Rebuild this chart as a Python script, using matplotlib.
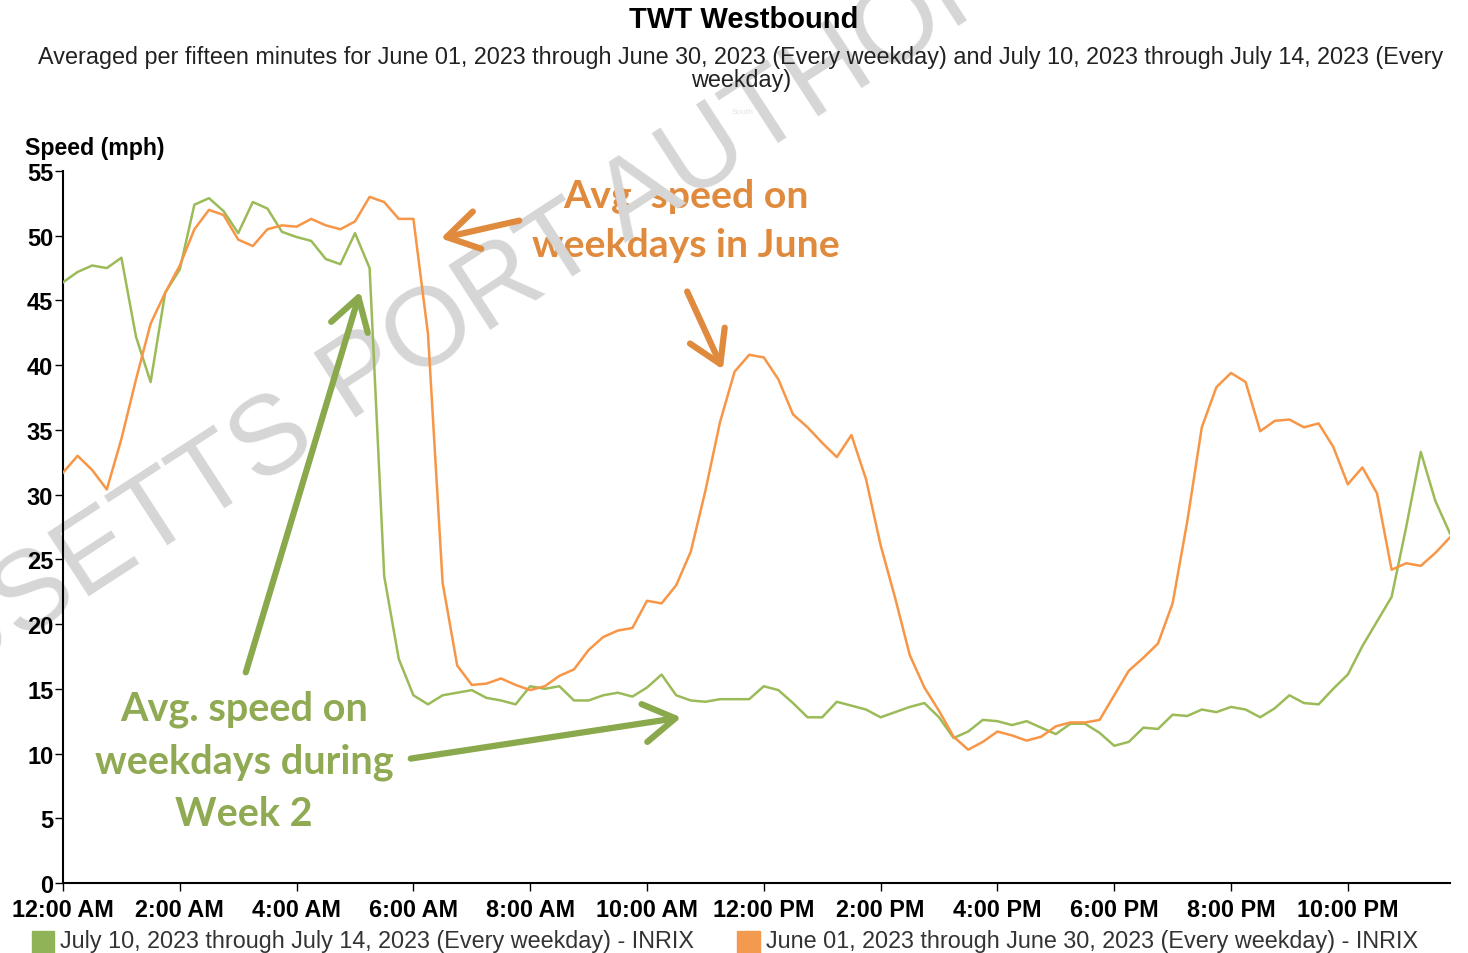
import numpy as np
import matplotlib; matplotlib.use('Agg')
import matplotlib.pyplot as plt

# 15-minute bins over the day (0 .. 95)
slots = np.arange(96) / 4.0   # hours

july_week2 = [46.4, 47.2, 47.7, 47.5, 48.3, 42.2, 38.7, 45.6, 47.4, 52.4, 52.9, 51.9,
              50.2, 52.6, 52.1, 50.3, 49.9, 49.6, 48.2, 47.8, 50.2, 47.5, 23.7, 17.3,
              14.5, 13.8, 14.5, 14.7, 14.9, 14.3, 14.1, 13.8, 15.2, 15.0, 15.2, 14.1,
              14.1, 14.5, 14.7, 14.4, 15.1, 16.1, 14.5, 14.1, 14.0, 14.2, 14.2, 14.2,
              15.2, 14.9, 13.9, 12.8, 12.8, 14.0, 13.7, 13.4, 12.8, 13.2, 13.6, 13.9,
              12.8, 11.2, 11.7, 12.6, 12.5, 12.2, 12.5, 12.0, 11.5, 12.3, 12.3, 11.6,
              10.6, 10.9, 12.0, 11.9, 13.0, 12.9, 13.4, 13.2, 13.6, 13.4, 12.8, 13.5,
              14.5, 13.9, 13.8, 15.0, 16.1, 18.3, 20.2, 22.1, 27.5, 33.3, 29.5, 27.0]

june_avg = [31.7, 33.0, 31.9, 30.4, 34.3, 38.9, 43.2, 45.6, 47.7, 50.5, 52.0, 51.6,
            49.7, 49.2, 50.5, 50.8, 50.7, 51.3, 50.8, 50.5, 51.1, 53.0, 52.6, 51.3,
            51.3, 42.4, 23.2, 16.8, 15.3, 15.4, 15.8, 15.3, 14.9, 15.2, 16.0, 16.5,
            18.0, 19.0, 19.5, 19.7, 21.8, 21.6, 23.0, 25.6, 30.3, 35.6, 39.5, 40.8,
            40.6, 38.9, 36.2, 35.2, 34.0, 32.9, 34.6, 31.2, 26.1, 22.0, 17.6, 15.1,
            13.3, 11.3, 10.3, 10.9, 11.7, 11.4, 11.0, 11.3, 12.1, 12.4, 12.4, 12.6,
            14.5, 16.4, 17.4, 18.5, 21.6, 27.9, 35.2, 38.3, 39.4, 38.7, 34.9, 35.7,
            35.8, 35.2, 35.5, 33.7, 30.8, 32.1, 30.1, 24.2, 24.7, 24.5, 25.5, 26.7]

x_ticks = [0, 2, 4, 6, 8, 10, 12, 14, 16, 18, 20, 22]
x_labels = ['12:00 AM', '2:00 AM', '4:00 AM', '6:00 AM', '8:00 AM', '10:00 AM',
            '12:00 PM', '2:00 PM', '4:00 PM', '6:00 PM', '8:00 PM', '10:00 PM']
y_ticks = [0, 5, 10, 15, 20, 25, 30, 35, 40, 45, 50, 55]

label_green = 'July 10, 2023 through July 14, 2023 (Every weekday) - INRIX'
label_orange = 'June 01, 2023 through June 30, 2023 (Every weekday) - INRIX'

GREEN = '#9bbb59'
ORANGE = '#f79646'
TXT_GREEN = '#8faa52'
TXT_ORANGE = '#e08a3e'

plt.rcParams['font.family'] = ['Liberation Sans', 'DejaVu Sans']

fig = plt.figure(figsize=(14.68, 9.54), dpi=100)
ax = fig.add_axes([63/1468, 1 - 884/954, (1450-63)/1468, (884-172)/954])
ax.patch.set_alpha(0)   # let the watermark (drawn underneath) show through

ax.plot(slots, july_week2, color=GREEN, lw=1.8, zorder=5)
ax.plot(slots, june_avg, color=ORANGE, lw=1.8, zorder=5)

ax.set_xlim(0, 23.75)
ax.set_ylim(0, 55)
ax.set_xticks(x_ticks)
ax.set_xticklabels(x_labels, fontsize=16.8, fontweight='bold')
ax.set_yticks(y_ticks)
ax.set_yticklabels([str(v) for v in y_ticks], fontsize=17, fontweight='bold')
ax.tick_params(axis='x', direction='out', length=6, width=1, color='black', pad=4.5)
ax.tick_params(axis='y', direction='out', length=6, width=1, color='black', pad=1)
for s in ['top', 'right']:
    ax.spines[s].set_visible(False)
for s in ['left', 'bottom']:
    ax.spines[s].set_linewidth(1.5)

fig.text(25/1468, 1 - 149/954, 'Speed (mph)', fontsize=16.7, fontweight='bold',
         ha='left', va='center')

# titles
fig.text(744/1468, 1 - 20/954, 'TWT Westbound', fontsize=21, fontweight='bold',
         ha='center', va='center')
fig.text(741/1468, 1 - 69/954,
         'Averaged per fifteen minutes for June 01, 2023 through June 30, 2023 (Every weekday) '
         'and July 10, 2023 through July 14, 2023 (Every\nweekday)',
         fontsize=16.8, ha='center', va='center', color='#222222', linespacing=1.0)
fig.text(743/1468, 1 - 112/954, 'South', fontsize=6, ha='center', va='center', color='#e4e4e4')

# legend row
fig.patches.append(plt.Rectangle((32/1468, 0), 22/1468, 22/954, transform=fig.transFigure,
                                 color='#8fb356', zorder=3))
fig.text(60/1468, 1 - 942/954, label_green, fontsize=16.8, ha='left', va='center', color='#333333')
fig.patches.append(plt.Rectangle((737/1468, 0), 23/1468, 22/954, transform=fig.transFigure,
                                 color='#f39a4e', zorder=3))
fig.text(766/1468, 1 - 942/954, label_orange, fontsize=16.8, ha='left', va='center', color='#333333')

# annotation text (figure pixel coords, y from top)
def fx(px):
    return px / 1468
def fy(py):
    return 1 - py / 954

ann_font = ['Lato', 'Open Sans', 'DejaVu Sans']
fig.text(fx(686), fy(221), 'Avg. speed on\nweekdays in June', fontsize=28.3, fontweight='bold',
         color=TXT_ORANGE, ha='center', va='center', linespacing=1.5, family=ann_font, zorder=-2)
fig.text(fx(244), fy(762), 'Avg. speed on\nweekdays during\nWeek 2', fontsize=28.5, fontweight='bold',
         color=TXT_GREEN, ha='center', va='center', linespacing=1.5, family=ann_font, zorder=-2)

# watermark, under the axes content but over the callout text
wm_kw = dict(fontsize=80, color='#d6d6d6', rotation=33, rotation_mode='anchor',
             va='baseline', zorder=-1)
ang = np.deg2rad(33)
px0, py0 = 348, 422
fig.text(fx(px0), fy(py0), 'PORT AUTHORITY', ha='left', **wm_kw)
fig.text(fx(px0 - 34*np.cos(ang)), fy(py0 + 34*np.sin(ang)), 'MASSACHUSETTS', ha='right', **wm_kw)

# arrows
def arrow(x0, y0, x1, y1, color):
    fig.add_artist(matplotlib.patches.FancyArrowPatch(
        (fx(x0), fy(y0)), (fx(x1), fy(y1)), transform=fig.transFigure,
        arrowstyle='->,head_length=0.9,head_width=0.55', mutation_scale=25,
        lw=4.5, color=color, capstyle='round', joinstyle='round', zorder=4))

arrow(522, 221, 438, 240, TXT_ORANGE)
arrow(686, 290, 724, 373, TXT_ORANGE)
arrow(245, 676, 361, 290, '#8aa84c')
arrow(408, 760, 684, 718, '#8aa84c')

fig.savefig('out.png', dpi=100)
